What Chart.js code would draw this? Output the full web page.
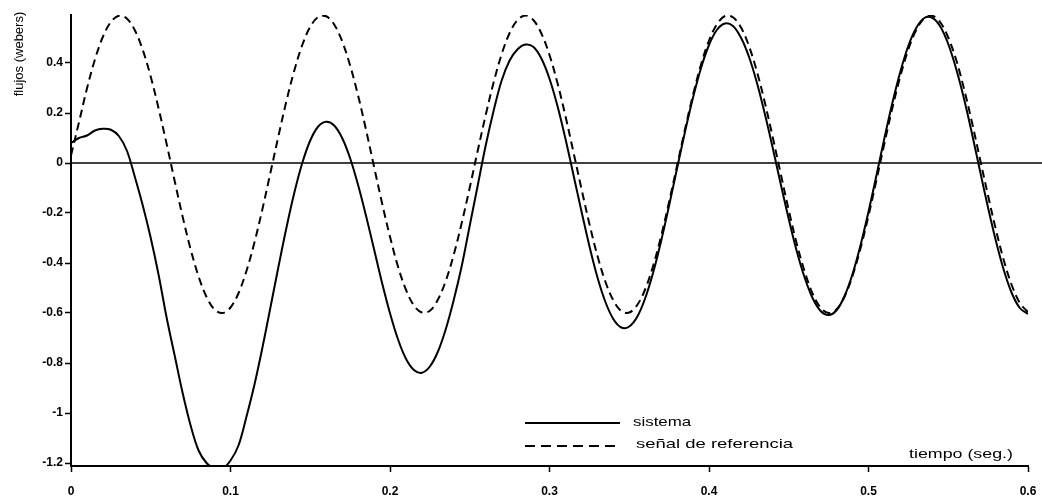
<!DOCTYPE html>
<html><head><meta charset="utf-8">
<script src="https://cdn.jsdelivr.net/npm/chart.js@4.4.1/dist/chart.umd.min.js"></script>
<style>html,body{margin:0;padding:0;background:#fff;}#wrap{width:1042px;height:502px;position:relative;}</style>
</head><body><div id="wrap"><canvas id="c" width="1042" height="502"></canvas></div>
<script>
const time = [0,0.005,0.01,0.015,0.02,0.025,0.03,0.035,0.04,0.045,0.05,0.055,0.06,0.065,0.07,0.075,0.08,0.085,0.09,0.095,
0.1,0.105,0.11,0.115,0.12,0.125,0.13,0.135,0.14,0.145,0.15,0.155,0.16,0.165,0.17,0.175,0.18,0.185,0.19,0.195,
0.2,0.205,0.21,0.215,0.22,0.225,0.23,0.235,0.24,0.245,0.25,0.255,0.26,0.265,0.27,0.275,0.28,0.285,0.29,0.295,
0.3,0.305,0.31,0.315,0.32,0.325,0.33,0.335,0.34,0.345,0.35,0.355,0.36,0.365,0.37,0.375,0.38,0.385,0.39,0.395,
0.4,0.405,0.41,0.415,0.42,0.425,0.43,0.435,0.44,0.445,0.45,0.455,0.46,0.465,0.47,0.475,0.48,0.485,0.49,0.495,
0.5,0.505,0.51,0.515,0.52,0.525,0.53,0.535,0.54,0.545,0.55,0.555,0.56,0.565,0.57,0.575,0.58,0.585,0.59,0.595,0.6];

const sistema = [0.08,0.10,0.11,0.13,0.137,0.133,0.108,0.05,-0.055,-0.17,
-0.30,-0.45,-0.62,-0.77,-0.92,-1.05,-1.15,-1.20,-1.222,-1.222,
-1.19,-1.13,-1.015,-0.887,-0.739,-0.579,-0.417,-0.261,-0.119,0.0,
0.09,0.146,0.165,0.150,0.100,0.019,-0.088,-0.212,-0.345,-0.479,
-0.601,-0.705,-0.783,-0.828,-0.839,-0.814,-0.755,-0.664,-0.547,-0.411,
-0.25,-0.09,0.07,0.21,0.33,0.41,0.455,0.474,0.464,0.417,
0.337,0.228,0.097,-0.047,-0.192,-0.332,-0.456,-0.555,-0.624,-0.658,
-0.654,-0.615,-0.541,-0.438,-0.312,-0.170,-0.021,0.126,0.262,0.380,
0.472,0.533,0.558,0.548,0.502,0.426,0.322,0.197,0.059,-0.085,
-0.224,-0.352,-0.459,-0.541,-0.592,-0.608,-0.589,-0.532,-0.444,-0.329,
-0.195,-0.049,0.100,0.241,0.366,0.469,0.541,0.580,0.581,0.546,
0.476,0.376,0.254,0.114,-0.034,-0.180,-0.315,-0.432,-0.523,-0.581,-0.604];

const referencia = [0.03,0.163,0.298,0.414,0.505,0.564,0.589,0.578,0.531,0.452,
0.345,0.216,0.075,-0.072,-0.215,-0.345,-0.454,-0.536,-0.586,-0.600,
-0.578,-0.521,-0.432,-0.318,-0.185,-0.040,0.106,0.246,0.370,0.472,
0.545,0.584,0.587,0.554,0.487,0.390,0.270,0.132,-0.015,-0.160,
-0.295,-0.414,-0.507,-0.570,-0.598,-0.591,-0.547,-0.471,-0.366,-0.239,
-0.098,0.049,0.192,0.323,0.435,0.520,0.572,0.590,0.571,0.517,
0.432,0.320,0.188,0.044,-0.102,-0.243,-0.370,-0.474,-0.549,-0.592,
-0.598,-0.568,-0.505,-0.411,-0.292,-0.155,-0.010,0.136,0.273,0.394,
0.490,0.555,0.588,0.583,0.543,0.469,0.367,0.242,0.102,-0.044,
-0.189,-0.322,-0.435,-0.523,-0.579,-0.600,-0.585,-0.534,-0.451,-0.341,
-0.211,-0.068,0.079,0.221,0.348,0.455,0.533,0.579,0.589,0.563,
0.502,0.412,0.294,0.159,0.013,-0.132,-0.270,-0.393,-0.492,-0.561,-0.596];

const xTicks = [0,0.1,0.2,0.3,0.4,0.5,0.6];
const xTickLabels = ['0','0.1','0.2','0.3','0.4','0.5','0.6'];
const yTicks = [-1.2,-1,-0.8,-0.6,-0.4,-0.2,0,0.2,0.4];
const yTickLabels = ['-1.2','-1','-0.8','-0.6','-0.4','-0.2','0','0.2','0.4'];
const seriesNames = ['sistema','señal de referencia'];
const yTitle = 'flujos (webers)';
const xTitle = 'tiempo (seg.)';

const FONT = '"Liberation Sans", Arial, sans-serif';
const dashRef = [8,5];

function wideText(ctx, txt, x, y, sx) {
  ctx.save();
  ctx.translate(x, y);
  ctx.scale(sx, 1);
  ctx.fillText(txt, 0, 0);
  ctx.restore();
}

const decor = {
  id: 'decor',
  beforeDatasetsDraw(chart) {
    const ctx = chart.ctx, y = chart.scales.y.getPixelForValue(0);
    ctx.save();
    ctx.strokeStyle = '#000'; ctx.lineWidth = 1.5;
    ctx.beginPath(); ctx.moveTo(chart.chartArea.left, y); ctx.lineTo(chart.width, y); ctx.stroke();
    ctx.restore();
  },
  afterDraw(chart) {
    const ctx = chart.ctx;
    ctx.save();
    ctx.fillStyle = '#000'; ctx.strokeStyle = '#000';
    ctx.lineWidth = 2;
    ctx.beginPath(); ctx.moveTo(525, 423); ctx.lineTo(620, 423); ctx.stroke();
    ctx.setLineDash([10,6]);
    ctx.beginPath(); ctx.moveTo(525, 446); ctx.lineTo(620, 446); ctx.stroke();
    ctx.setLineDash([]);
    ctx.font = '13px ' + FONT;
    ctx.textBaseline = 'middle'; ctx.textAlign = 'left';
    wideText(ctx, seriesNames[0], 633, 422, 1.3);
    wideText(ctx, seriesNames[1], 636, 444, 1.42);
    wideText(ctx, xTitle, 909, 454, 1.37);
    ctx.translate(19, 54);
    ctx.rotate(-Math.PI/2);
    ctx.textAlign = 'center';
    ctx.fillText(yTitle, 0, 0);
    ctx.restore();
  }
};

new Chart(document.getElementById('c'), {
  type: 'line',
  data: {
    datasets: [
      { label: seriesNames[0], data: time.map((t,i)=>({x:t,y:sistema[i]})),
        borderColor:'#000', borderWidth:2, pointRadius:0, tension:0.35, fill:false },
      { label: seriesNames[1], data: time.map((t,i)=>({x:t,y:referencia[i]})),
        borderColor:'#000', borderWidth:2, borderDash:dashRef, pointRadius:0, tension:0.35, fill:false }
    ]
  },
  options: {
    responsive:false, animation:false, devicePixelRatio:1,
    layout:{ padding:{ left:0, right:14, top:15, bottom:0 } },
    plugins:{ legend:{display:false}, tooltip:{enabled:false} },
    scales:{
      x:{ type:'linear', min:0, max:0.6,
        afterBuildTicks(s){ s.ticks = xTicks.map(v=>({value:v})); },
        afterFit(s){ s.height = 36; s.paddingLeft = 0; s.paddingRight = 0; },
        grid:{ display:true, drawOnChartArea:false, drawTicks:true, tickLength:6, tickColor:'#000', tickWidth:1.5 },
        border:{ display:true, color:'#000', width:2 },
        ticks:{ autoSkip:false, maxRotation:0, padding:12, color:'#000',
          font:{ family:FONT, size:12, weight:'bold' },
          callback:(v,i)=>xTickLabels[i] }
      },
      y:{ type:'linear', min:-1.212, max:0.592,
        afterBuildTicks(s){ s.ticks = yTicks.map(v=>({value:v})); },
        afterFit(s){ s.width = 71; s.paddingTop = 0; s.paddingBottom = 0; },
        grid:{ display:true, drawOnChartArea:false, drawTicks:true, tickLength:6, tickColor:'#000', tickWidth:1.5 },
        border:{ display:true, color:'#000', width:2 },
        ticks:{ padding:2, color:'#000',
          font:{ family:FONT, size:12, weight:'bold' },
          callback:(v,i)=>yTickLabels[i] }
      }
    }
  },
  plugins:[decor]
});
</script></body></html>
